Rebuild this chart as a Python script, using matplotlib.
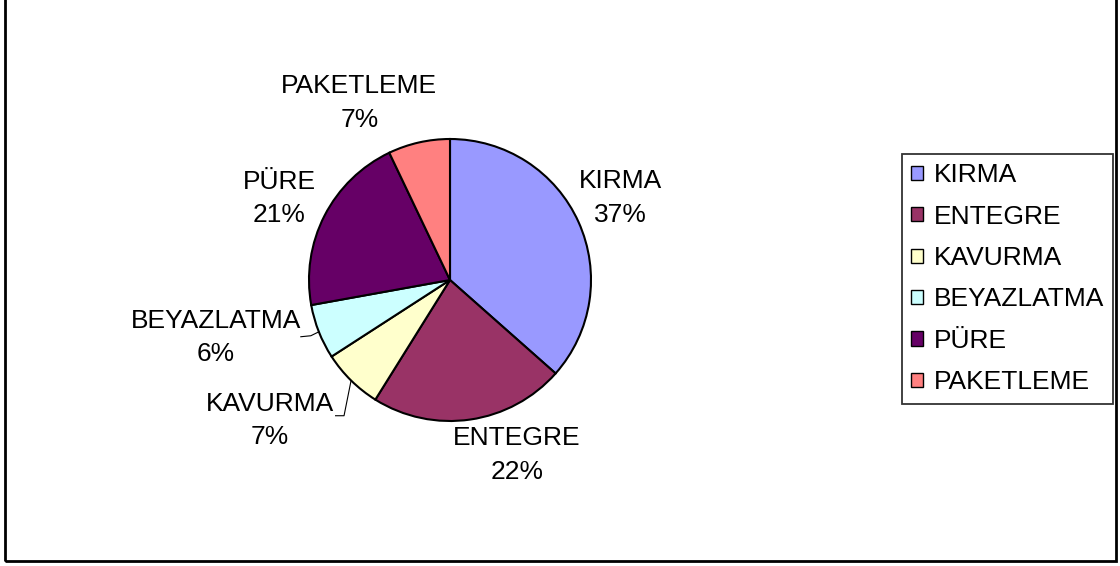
import numpy as np
import matplotlib
matplotlib.use("Agg")
import matplotlib.pyplot as plt
from matplotlib.patches import Rectangle

plt.rcParams['font.family'] = ['Liberation Sans', 'DejaVu Sans']

categories = ["KIRMA", "ENTEGRE", "KAVURMA", "BEYAZLATMA", "PÜRE", "PAKETLEME"]
values = [36.6, 22.4, 7.0, 6.3, 20.8, 7.1]
colors = ["#9999FF", "#993366", "#FFFFCC", "#CCFFFF", "#660066", "#FF8080"]

# label placement (radius factor, angle offset in degrees) relative to wedge mid-angle
label_radius = [1.34, 1.33, 1.62, 1.71, 1.34, 1.41]
label_dangle = [1.5, 12.7, -7.5, -7.7, 1.6, 14.4]
leader = [False, False, True, True, False, False]

W, H = 1120, 566
fig = plt.figure(figsize=(W / 100, H / 100), dpi=100)

# outer chart border
fig.add_artist(Rectangle((5 / W, 5 / H), 1111 / W, (H + 10) / H, transform=fig.transFigure,
                         fill=False, edgecolor='black', linewidth=2, clip_on=False))

cx, cy, r = 450, 280, 141
ax = fig.add_axes([(cx - r) / W, (H - cy - r) / H, 2 * r / W, 2 * r / H])

wedges, _ = ax.pie(values, colors=colors, startangle=90, counterclock=False, radius=1,
                   wedgeprops=dict(edgecolor='black', linewidth=1.5))
ax.set_xlim(-1, 1)
ax.set_ylim(-1, 1)
ax.axis('off')

total = sum(values)
fs = 19
for w, cat, v, rf, da, ld in zip(wedges, categories, values, label_radius, label_dangle, leader):
    mid = np.deg2rad((w.theta1 + w.theta2) / 2)
    ang = mid + np.deg2rad(da)
    x, y = rf * np.cos(ang), rf * np.sin(ang)
    ax.text(x, y, f"{cat}\n{v / total * 100:.0f}%", ha='center', va='center',
            fontsize=fs, linespacing=1.5, clip_on=False)
    if ld:
        ex, ey = np.cos(mid), np.sin(mid)
        if cat == "KAVURMA":
            pts = [(ex, ey), (ex - 0.05, ey - 0.25), (ex - 0.11, ey - 0.25)]
        else:
            pts = [(ex, ey), (ex - 0.057, ey - 0.028), (ex - 0.128, ey - 0.035)]
        xs, ys = zip(*pts)
        ax.plot(xs, ys, color='black', linewidth=0.8, clip_on=False)

leg = fig.legend(wedges, categories, loc='upper left',
                 bbox_to_anchor=(902 / W, 1 - 154 / H), bbox_transform=fig.transFigure,
                 fontsize=fs, frameon=True, fancybox=False, edgecolor='black',
                 handlelength=0.45, handleheight=0.45, handletextpad=0.4,
                 labelspacing=0.66, borderpad=0.35, borderaxespad=0)
leg.get_frame().set_linewidth(1.3)
for h in leg.legend_handles:
    h.set_linewidth(1.0)

fig.savefig("out.png", dpi=100)
